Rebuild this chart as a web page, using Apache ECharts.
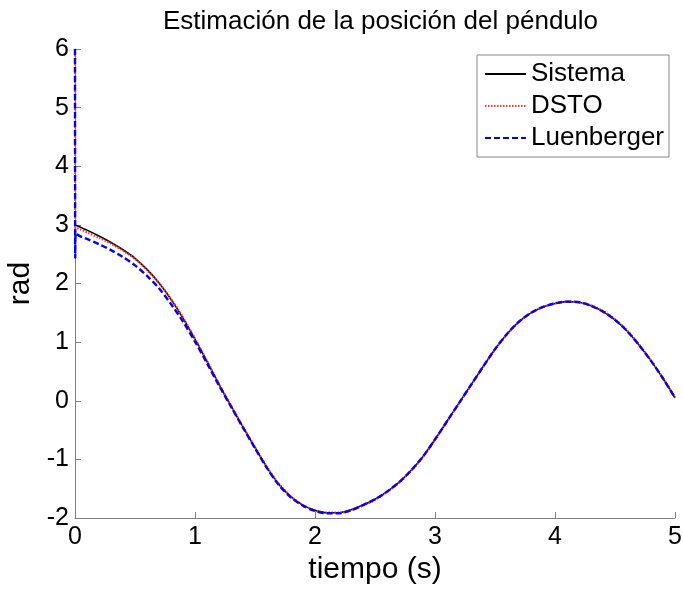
<!DOCTYPE html>
<html>
<head>
<meta charset="utf-8">
<script src="https://cdn.jsdelivr.net/npm/echarts@6/dist/echarts.min.js"></script>
<style>html,body{margin:0;padding:0;background:#fff}#c{width:683px;height:590px}</style>
</head>
<body>
<div id="c"></div>
<script>
const titleText = "Estimación de la posición del péndulo";
const xName = "tiempo (s)";
const yName = "rad";
const seriesNames = ["Sistema", "DSTO", "Luenberger"];

const time = [0, 0.002, 0.006, 0.05, 0.1, 0.2, 0.3, 0.4, 0.5, 0.6, 0.7, 0.8, 0.9, 1.0,
  1.1, 1.2, 1.3, 1.4, 1.5, 1.6, 1.7, 1.8, 1.9, 2.0, 2.1, 2.2, 2.3, 2.4, 2.5, 2.6, 2.7,
  2.8, 2.9, 3.0, 3.1, 3.2, 3.3, 3.4, 3.5, 3.6, 3.7, 3.8, 3.9, 4.0, 4.1, 4.2, 4.3, 4.4,
  4.5, 4.6, 4.7, 4.8, 4.9, 5.0];

const sistema = [3.0, 3.0, 2.995, 2.955, 2.91, 2.81, 2.70, 2.575, 2.43, 2.24, 2.01, 1.73, 1.41, 1.05,
  0.67, 0.28, -0.09, -0.45, -0.80, -1.14, -1.43, -1.64, -1.78, -1.87, -1.91, -1.91, -1.86, -1.78, -1.68, -1.55, -1.39,
  -1.19, -0.95, -0.66, -0.35, -0.04, 0.27, 0.58, 0.88, 1.14, 1.35, 1.50, 1.60, 1.66, 1.69, 1.68, 1.62, 1.52,
  1.38, 1.19, 0.95, 0.68, 0.38, 0.05];

const dsto = [6.0, 2.80, 2.95, 2.92, 2.87, 2.78, 2.68, 2.56, 2.42, 2.23, 2.01, 1.74, 1.42, 1.06,
  0.68, 0.29, -0.08, -0.44, -0.79, -1.13, -1.42, -1.63, -1.78, -1.87, -1.91, -1.91, -1.87, -1.79, -1.69, -1.56, -1.40,
  -1.20, -0.96, -0.67, -0.36, -0.05, 0.26, 0.57, 0.87, 1.13, 1.34, 1.50, 1.60, 1.66, 1.69, 1.68, 1.63, 1.53,
  1.39, 1.20, 0.96, 0.69, 0.39, 0.06];

const luenberger = [6.0, 2.44, 2.85, 2.80, 2.76, 2.67, 2.57, 2.45, 2.31, 2.13, 1.92, 1.65, 1.35, 1.01,
  0.64, 0.26, -0.10, -0.46, -0.81, -1.15, -1.44, -1.65, -1.79, -1.88, -1.92, -1.92, -1.87, -1.78, -1.68, -1.55, -1.39,
  -1.19, -0.95, -0.66, -0.35, -0.04, 0.27, 0.58, 0.88, 1.14, 1.35, 1.50, 1.60, 1.66, 1.69, 1.68, 1.62, 1.52,
  1.38, 1.19, 0.95, 0.68, 0.38, 0.05];

const xTicks = [0, 1, 2, 3, 4, 5];
const yTicks = [-2, -1, 0, 1, 2, 3, 4, 5, 6];

function pairs(ys) { return time.map((t, i) => [t, ys[i]]); }

const chart = echarts.init(document.getElementById('c'), null, {renderer: 'canvas'});
const font = 'Liberation Sans, Arial, sans-serif';
chart.setOption({
  animation: false,
  backgroundColor: '#ffffff',
  title: {
    text: titleText, left: 158, top: 4,
    textStyle: {fontFamily: font, fontSize: 26, fontWeight: 'normal', color: '#000'}
  },
  grid: {left: 75, right: 8, top: 49, bottom: 72, containLabel: false, outerBoundsMode: 'none'},
  legend: {
    data: seriesNames, orient: 'vertical', right: 14, top: 55,
    itemWidth: 41, itemHeight: 14, itemGap: 6,
    backgroundColor: '#fff', borderColor: '#888', borderWidth: 1, borderRadius: 0,
    padding: [6, 5, 6, 7],
    itemStyle: {opacity: 0},
    textStyle: {fontFamily: font, fontSize: 26, color: '#000'}
  },
  xAxis: {
    type: 'value', min: xTicks[0], max: xTicks[xTicks.length - 1], interval: 1,
    name: xName, nameLocation: 'middle', nameGap: 37,
    nameTextStyle: {fontFamily: font, fontSize: 30, color: '#000'},
    axisLine: {show: true, onZero: false, lineStyle: {color: '#808080', width: 1}},
    axisTick: {show: true, inside: true, length: 6, lineStyle: {color: '#808080'}},
    axisLabel: {fontFamily: font, fontSize: 25, color: '#000', margin: 7},
    splitLine: {show: false}
  },
  yAxis: {
    type: 'value', min: yTicks[0], max: yTicks[yTicks.length - 1], interval: 1,
    name: yName, nameLocation: 'middle', nameGap: 32,
    nameTextStyle: {fontFamily: font, fontSize: 30, color: '#000'},
    axisLine: {show: true, onZero: false, lineStyle: {color: '#808080', width: 1}},
    axisTick: {show: true, inside: true, length: 6, lineStyle: {color: '#808080'}},
    axisLabel: {fontFamily: font, fontSize: 25, color: '#000', margin: 6},
    splitLine: {show: false}
  },
  series: [
    {name: seriesNames[0], type: 'line', data: pairs(sistema), smooth: 0.3, showSymbol: false, symbol: 'none',
     lineStyle: {color: '#000', width: 1.6, type: 'solid'}, itemStyle: {color: '#000'}},
    {name: seriesNames[1], type: 'line', data: pairs(dsto), smooth: 0.3, showSymbol: false, symbol: 'none',
     lineStyle: {color: '#ff3333', width: 2.2, type: [1.5, 1.5]}, itemStyle: {color: '#ff3333'}},
    {name: seriesNames[2], type: 'line', data: pairs(luenberger), smooth: 0.3, showSymbol: false, symbol: 'none',
     lineStyle: {color: '#0000ff', width: 2.4, type: [6, 3]}, itemStyle: {color: '#0000ff'}}
  ]
});
</script>
</body>
</html>
